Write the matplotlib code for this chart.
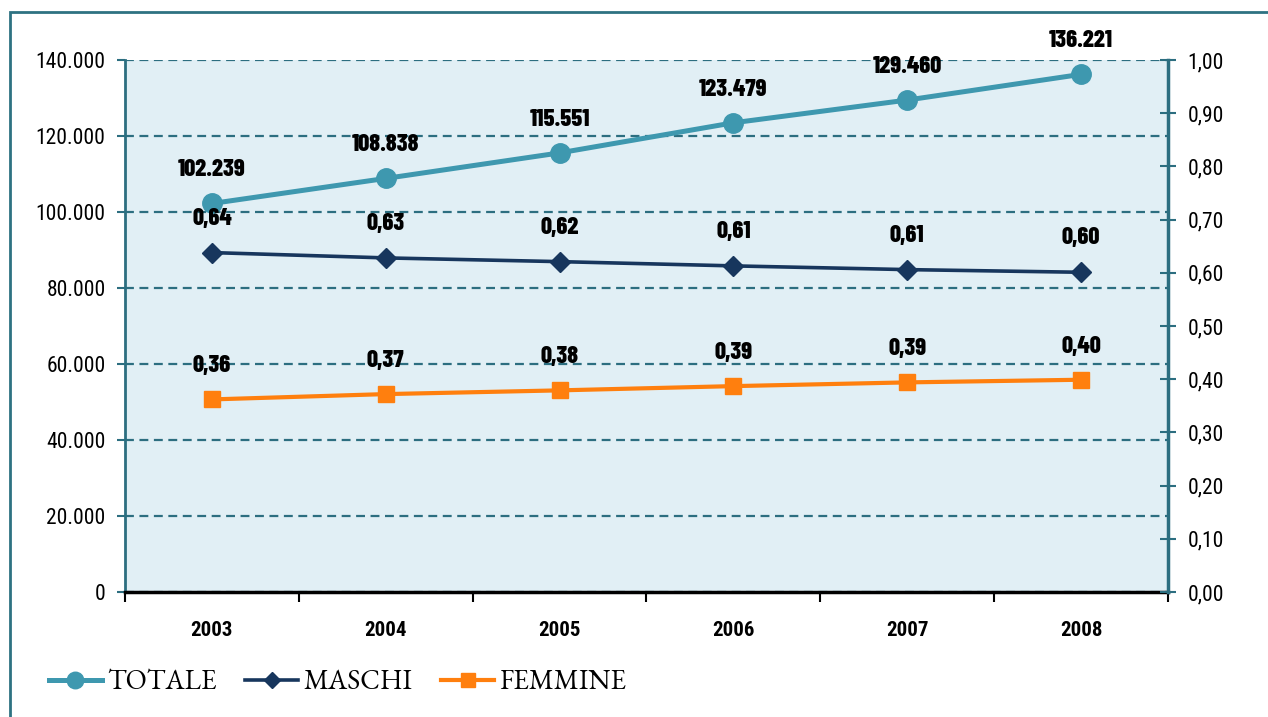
import matplotlib
matplotlib.use("Agg")
import matplotlib.pyplot as plt
from matplotlib.patches import Rectangle
from matplotlib.ticker import FixedLocator, FuncFormatter

# data
anni = ['2003', '2004', '2005', '2006', '2007', '2008']
totale = [102239, 108838, 115551, 123479, 129460, 136221]
maschi = [0.638, 0.628, 0.621, 0.613, 0.606, 0.601]
femmine = [0.362, 0.372, 0.379, 0.387, 0.394, 0.399]

c_tot = '#3E98AF'
c_mas = '#17365D'
c_fem = '#FF7F0E'
c_grid = '#2C6E80'
bg = '#E1EFF5'

f_tick = ['Roboto Condensed', 'DejaVu Sans']
f_lab = ['Barlow Condensed', 'DejaVu Sans']
f_leg = ['EB Garamond', 'Liberation Serif', 'DejaVu Serif']

fig = plt.figure(figsize=(12.68, 7.17), dpi=100)
ax = fig.add_axes([125/1268, 1-592/717, (1168-125)/1268, (592-60)/717])
ax2 = ax.twinx()
ax.set_facecolor(bg)
ax2.patch.set_visible(False)

x = list(range(len(anni)))
l1, = ax.plot(x, totale, color=c_tot, lw=3.6, marker='o', ms=14, zorder=5)
l2, = ax2.plot(x, maschi, color=c_mas, lw=2.6, marker='D', ms=10, zorder=5)
l3, = ax2.plot(x, femmine, color=c_fem, lw=3.0, marker='s', ms=12, zorder=5)

ax.set_xlim(-0.5, len(anni) - 0.5)
ax.set_ylim(0, 140000)
ax2.set_ylim(0, 1.0)

ax.set_yticks(range(0, 140001, 20000))
ax.yaxis.set_major_formatter(FuncFormatter(lambda v, p: '{:,.0f}'.format(v).replace(',', '.')))
ax2.set_yticks([i / 10 for i in range(11)])
ax2.yaxis.set_major_formatter(FuncFormatter(lambda v, p: '{:.2f}'.format(v).replace('.', ',')))

ax.set_xticks(x)
ax.set_xticklabels(anni, family=f_tick, fontweight='bold', fontsize=15)
ax.xaxis.set_minor_locator(FixedLocator([i - 0.5 for i in range(len(anni) + 1)]))
ax.tick_params(axis='x', which='major', length=0, pad=21)
ax.tick_params(axis='x', which='minor', length=7, width=1.5, color='black', direction='out')
ax.tick_params(axis='y', length=6, width=1.5, color=c_grid, direction='out', pad=8, labelsize=15.5)
ax2.tick_params(axis='y', length=12, width=1.5, color=c_grid, direction='inout', pad=8, labelsize=15.5)
for lab in ax.get_yticklabels() + ax2.get_yticklabels():
    lab.set_family(f_tick)

ax.grid(axis='y', color=c_grid, ls=(0, (4, 2.5)), lw=1.6)
ax.set_axisbelow(True)
for s in ['top', 'right']:
    ax.spines[s].set_visible(False)
ax2.spines['top'].set_visible(False)
ax2.spines['left'].set_visible(False)
ax2.spines['bottom'].set_visible(False)
ax.spines['left'].set_color(c_grid)
ax.spines['left'].set_linewidth(2)
ax2.spines['right'].set_color(c_grid)
ax2.spines['right'].set_linewidth(2.5)
ax.spines['bottom'].set_color('black')
ax.spines['bottom'].set_linewidth(2.5)

lab_kw = dict(textcoords='offset pixels', ha='center', va='center',
              family=f_lab, fontweight=800, fontsize=17.5, zorder=6)
for i in x:
    ax.annotate('{:,}'.format(totale[i]).replace(',', '.'), (i, totale[i]), xytext=(0, 33), **lab_kw)
    ax2.annotate('{:.2f}'.format(maschi[i]).replace('.', ','), (i, maschi[i]), xytext=(0, 34), **lab_kw)
    ax2.annotate('{:.2f}'.format(femmine[i]).replace('.', ','), (i, femmine[i]), xytext=(0, 33), **lab_kw)

fig.legend([l1, l2, l3], ['TOTALE', 'MASCHI', 'FEMMINE'], loc='center left',
           bbox_to_anchor=(49/1268, 1-683/717), ncol=3, frameon=False,
           borderaxespad=0, borderpad=0, markerscale=0.85,
           handlelength=1.9, handletextpad=0.18, columnspacing=1.05,
           prop={'family': f_leg, 'size': 20})

fig.patches.append(Rectangle((10/1268, -0.2), 1.2, 1.2 - 12/717, transform=fig.transFigure,
                             fill=False, edgecolor='#2E7282', lw=2))

fig.savefig('out.png', dpi=100)
